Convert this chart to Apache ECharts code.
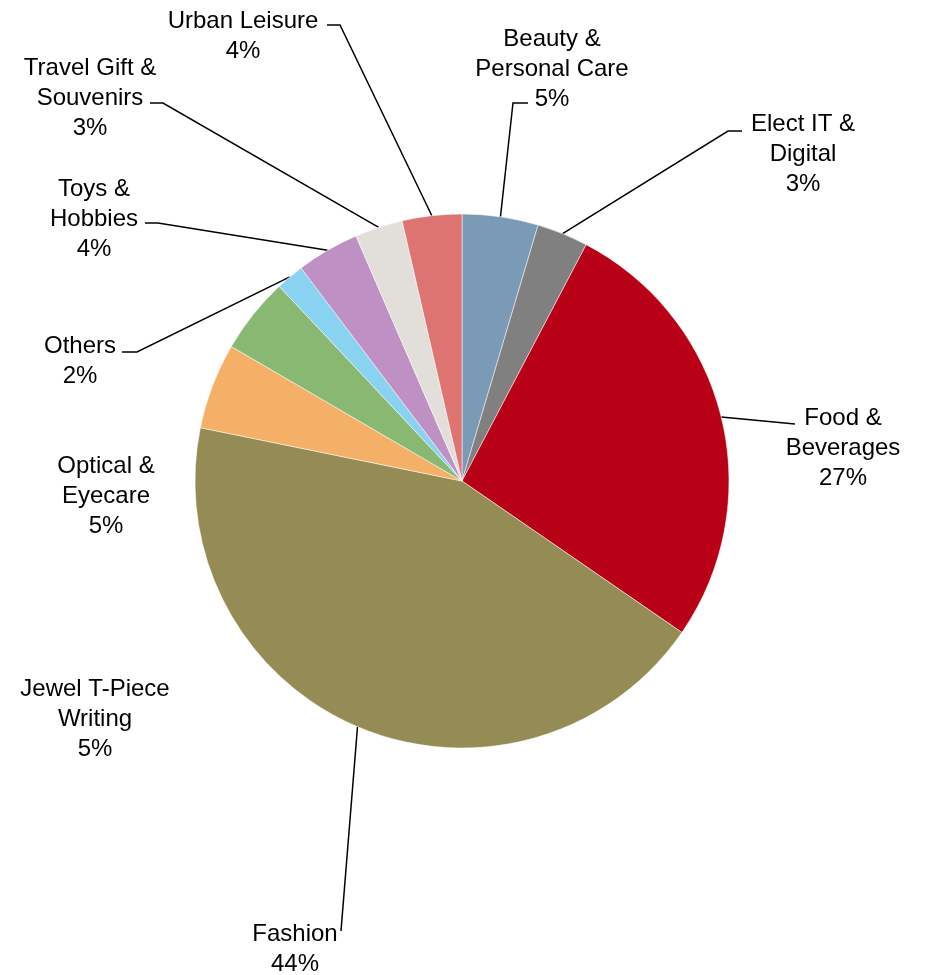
<!DOCTYPE html>
<html>
<head>
<meta charset="utf-8">
<script src="https://cdn.jsdelivr.net/npm/echarts@6/dist/echarts.min.js"></script>
<style>
  html, body { margin: 0; padding: 0; background: #ffffff; }
  #chart { width: 926px; height: 975px; }
</style>
</head>
<body>
<div id="chart"></div>
<script>
// Sales mix by category (share of total, %), clockwise from 12 o'clock
const categories = [
  'Beauty &\nPersonal Care',
  'Elect IT &\nDigital',
  'Food &\nBeverages',
  'Fashion',
  'Jewel T-Piece\nWriting',
  'Optical &\nEyecare',
  'Others',
  'Toys &\nHobbies',
  'Travel Gift &\nSouvenirs',
  'Urban Leisure'
];
const shares = [4.6, 3.1, 26.9, 43.6, 5.2, 4.6, 1.7, 3.8, 2.9, 3.6];

const sliceColors = [
  '#7A9AB6', '#808080', '#B80016', '#958C55', '#F4B066',
  '#88B872', '#89D3F0', '#BE90C3', '#E2DFDB', '#DE7472'
];

// Label placement: [centre x, first line y] for each category
const labelAnchor = [
  [552, 39.5], [803, 124.5], [843, 418.5], [295, 934.5], [95, 689.5],
  [106, 466], [80, 346.5], [94, 189], [90, 68.5], [243, 21]
];
// Leader line bend and end points (null = no leader line)
const leaderPath = [
  [[513, 103], [528, 103]],
  [[728, 131], [742, 131]],
  [[795, 424], [795, 424]],
  [[341, 931], [341, 931]],
  null,
  null,
  [[137, 352], [122, 352]],
  [[158, 223], [145, 223]],
  [[163, 103], [150, 103]],
  [[340, 25], [327, 25]]
];

const LINE_H = 30;

const chart = echarts.init(document.getElementById('chart'), null, { renderer: 'canvas' });

const data = categories.map((name, i) => ({
  name: name,
  value: shares[i],
  itemStyle: { color: sliceColors[i] },
  labelLine: { show: leaderPath[i] !== null }
}));

chart.setOption({
  backgroundColor: '#ffffff',
  animation: false,
  series: [{
    type: 'pie',
    center: [462, 481],
    radius: 267,
    startAngle: 90,
    clockwise: true,
    avoidLabelOverlap: false,
    data: data,
    itemStyle: { borderColor: '#ffffff', borderWidth: 0.5 },
    label: {
      show: true,
      position: 'outside',
      formatter: p => p.name + '\n' + Math.round(p.percent) + '%',
      fontFamily: '"Liberation Sans", Arial, sans-serif',
      fontSize: 24,
      lineHeight: LINE_H,
      color: '#000000',
      align: 'center',
      width: 220,
      overflow: 'none'
    },
    labelLine: {
      show: true,
      length: 20,
      length2: 10,
      smooth: false,
      lineStyle: { color: '#000000', width: 1.5 }
    },
    labelLayout: function (params) {
      const i = params.dataIndex;
      const a = labelAnchor[i];
      const out = {
        x: a[0],
        y: a[1] - LINE_H / 2,
        align: 'center',
        verticalAlign: 'top'
      };
      const path = leaderPath[i];
      if (path && params.labelLinePoints) {
        out.labelLinePoints = [params.labelLinePoints[0], path[0], path[1]];
      }
      return out;
    }
  }]
});
</script>
</body>
</html>
